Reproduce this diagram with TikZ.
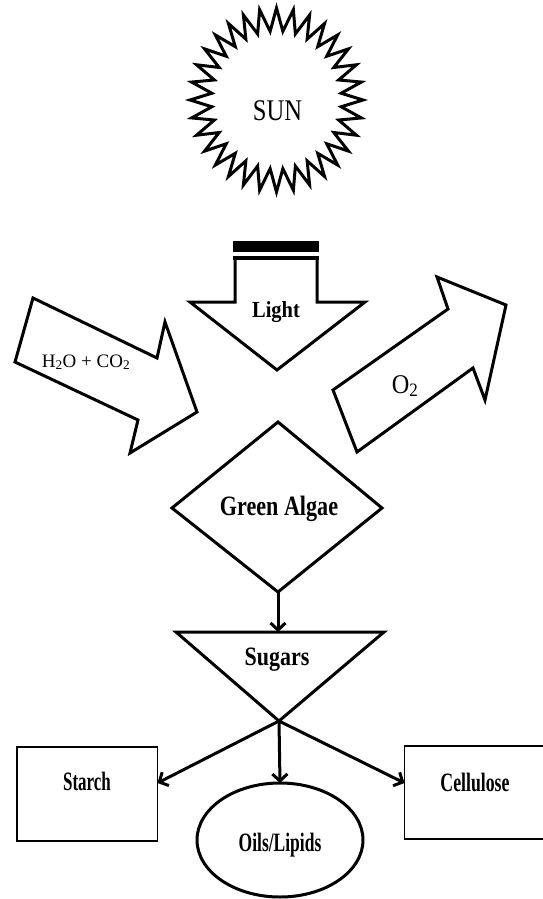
\documentclass[tikz,border=0pt]{standalone}
\usepackage{fontspec}
\setmainfont{Liberation Serif}
\usepackage{graphicx}
\usetikzlibrary{arrows.meta}
\newcommand{\sqz}[2]{\scalebox{#1}[1]{#2}}
\begin{document}
\begin{tikzpicture}[x=1pt,y=-1pt,
  outl/.style={draw=black, line width=3pt, line join=miter, fill=white},
  conn/.style={draw=black, line width=3pt, -{Straight Barb[length=7pt,width=15pt]}},
  lbl/.style={inner sep=0pt, text=black, anchor=base},
  box/.style={draw=black, line width=1.6pt}]
\useasboundingbox (0,0) rectangle (543,899);

% Sun
\draw[outl] ({276.5+86.5*cos(-90)},{100+92*sin(-90)})
  \foreach \i in {0,...,31} {
    -- ({276.5+65*cos(-90+\i*11.25+5.625)},{100+69*sin(-90+\i*11.25+5.625)})
    -- ({276.5+86.5*cos(-90+(\i+1)*11.25)},{100+92*sin(-90+(\i+1)*11.25)})
  } -- cycle;
\node[lbl] (sun) at (277.5,120) {\fontsize{30}{30}\selectfont\sqz{0.82}{SUN}};

% Light arrow
\fill[black] (233,241) rectangle (319,252);
\fill[black] (233,256) rectangle (319,260);
\draw[outl, fill=none] (235,260) -- (235,302) -- (190,302) -- (277,370) -- (365,302) -- (317,302) -- (317,260);
\node[lbl] (light) at (276,317) {\fontsize{23}{23}\selectfont\bfseries\sqz{0.89}{Light}};

% H2O + CO2 arrow
\draw[outl] (33,298) -- (157,358) -- (165,322) -- (197,412) -- (130,453) -- (138,420) -- (15,362) -- cycle;
\node[lbl] (h2o) at (86,367) {\fontsize{19}{19}\selectfont H\textsubscript{2}O + CO\textsubscript{2}};

% O2 arrow
\draw[outl] (333,390) -- (448,309) -- (437,277) -- (506,305) -- (485,400) -- (473,368) -- (357,452) -- cycle;
\node[lbl] (o2) at (405,393) {\fontsize{27}{27}\selectfont\sqz{0.9}{O\textsubscript{2}}};

% Green Algae diamond
\draw[outl] (278,422) -- (382,508) -- (278,592) -- (172,508) -- cycle;
\node[lbl] (ga) at (279,515) {\fontsize{28}{28}\selectfont\bfseries\sqz{0.79}{Green Algae}};
\coordinate (gabot) at (278,592);

% Sugars triangle
\draw[outl] (176,632) -- (384,632) -- (279,721) -- cycle;
\node[lbl] (sug) at (277,665) {\fontsize{26.5}{26.5}\selectfont\bfseries\sqz{0.83}{Sugars}};
\coordinate (sugtop) at (278,632);
\coordinate (sugtip) at (279,721);

% Products
\draw[box] (17,747) rectangle (157.5,841);
\node[lbl] (starch) at (87,790) {\fontsize{26.5}{26.5}\selectfont\bfseries\sqz{0.64}{Starch}};
\coordinate (starchR) at (157.5,783);

\draw[box] (404.5,746) rectangle (560,839);
\node[lbl] (cell) at (475,791) {\fontsize{26.5}{26.5}\selectfont\bfseries\sqz{0.67}{Cellulose}};
\coordinate (cellL) at (404.5,783);

\draw[line width=3pt] (280,840) ellipse [x radius=83, y radius=57];
\node[lbl] (oils) at (280,851) {\fontsize{26.5}{26.5}\selectfont\bfseries\sqz{0.66}{Oils/Lipids}};
\coordinate (oilsT) at (280,783);

% Connectors
\draw[conn] (gabot) -- (sugtop);
\draw[conn] (sugtip) -- (starchR);
\draw[conn] (sugtip) -- (oilsT);
\draw[conn] (sugtip) -- (cellL);
\end{tikzpicture}
\end{document}
